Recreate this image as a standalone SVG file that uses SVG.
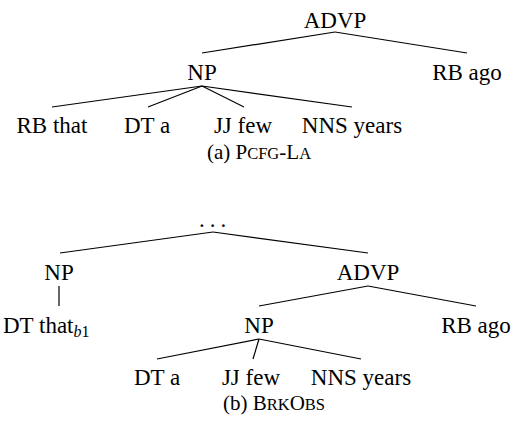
<svg xmlns="http://www.w3.org/2000/svg" width="516" height="422" viewBox="0 0 516 422">
<style>
text{font-family:"Liberation Serif","Times New Roman",serif;font-size:23px;fill:#000;text-anchor:middle}
.cap{font-size:21px}
.sc{font-size:16.5px}
.sub{font-size:16px}
.edges line{stroke:#000;stroke-width:1.2}
</style>
<rect width="516" height="422" fill="#fff"/>
<g class="edges" id="connectors">
<line x1="335" y1="32" x2="202" y2="53"/>
<line x1="335" y1="32" x2="467" y2="53"/>
<line x1="202" y1="86" x2="52" y2="107"/>
<line x1="202" y1="86" x2="148" y2="107"/>
<line x1="202" y1="86" x2="244" y2="107"/>
<line x1="202" y1="86" x2="352" y2="107"/>
<line x1="213" y1="232" x2="60" y2="253"/>
<line x1="213" y1="232" x2="368" y2="253"/>
<line x1="59" y1="286" x2="59" y2="306"/>
<line x1="368" y1="286" x2="259" y2="306"/>
<line x1="368" y1="286" x2="476" y2="306"/>
<line x1="259" y1="339" x2="157" y2="359"/>
<line x1="259" y1="339" x2="253" y2="359"/>
<line x1="259" y1="339" x2="361" y2="359"/>
</g>
<g id="a-advp"><text x="335" y="28">ADVP</text></g>
<g id="a-np"><text x="202" y="80">NP</text></g>
<g id="a-rbago"><text x="467" y="80">RB ago</text></g>
<g id="a-rbthat"><text x="52" y="133">RB that</text></g>
<g id="a-dta"><text x="147" y="133">DT a</text></g>
<g id="a-jjfew"><text x="243" y="133">JJ few</text></g>
<g id="a-nnsyears"><text x="352" y="133">NNS years</text></g>
<g id="a-caption"><text class="cap" x="259" y="159">(a) P<tspan class="sc">CFG</tspan>-L<tspan class="sc">A</tspan></text></g>
<g id="b-root"><text x="199" y="227" style="text-anchor:start;letter-spacing:5px">...</text></g>
<g id="b-np1"><text x="59" y="280">NP</text></g>
<g id="b-advp"><text x="368" y="280">ADVP</text></g>
<g id="b-dtthat"><text x="3" y="333" style="text-anchor:start">DT that<tspan class="sub" font-style="italic" dy="4">b</tspan><tspan class="sub">1</tspan></text></g>
<g id="b-np2"><text x="259" y="333">NP</text></g>
<g id="b-rbago"><text x="476" y="333">RB ago</text></g>
<g id="b-dta"><text x="157" y="385">DT a</text></g>
<g id="b-jjfew"><text x="251" y="385">JJ few</text></g>
<g id="b-nnsyears"><text x="361" y="385">NNS years</text></g>
<g id="b-caption"><text class="cap" x="274" y="410">(b) B<tspan class="sc">RK</tspan>O<tspan class="sc">BS</tspan></text></g>
</svg>
